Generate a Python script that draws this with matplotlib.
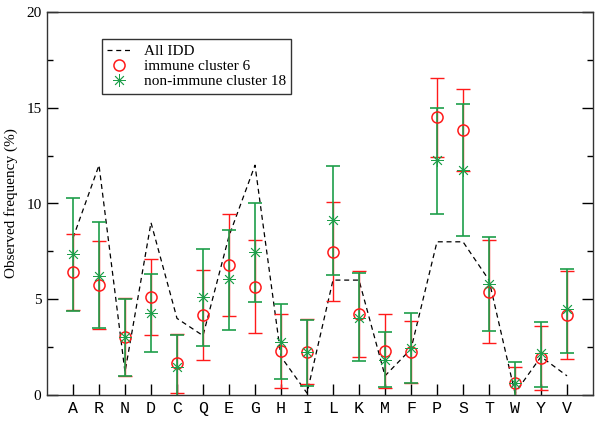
import matplotlib
matplotlib.use("Agg")
import matplotlib.pyplot as plt
import numpy as np
from matplotlib.ticker import MultipleLocator

residues = ["A", "R", "N", "D", "C", "Q", "E", "G", "H", "I",
            "L", "K", "M", "F", "P", "S", "T", "W", "Y", "V"]

all_idd = [8.2, 12.0, 1.2, 9.0, 4.0, 3.1, 8.3, 12.0, 2.0, 0.1,
           6.0, 6.0, 1.0, 2.4, 8.0, 8.0, 6.0, 0.1, 2.0, 1.0]

immune = [6.42, 5.76, 3.04, 5.13, 1.65, 4.19, 6.80, 5.66, 2.31, 2.25,
          7.49, 4.23, 2.30, 2.26, 14.50, 13.85, 5.40, 0.61, 1.91, 4.18]
immune_low = [4.44, 3.46, 1.00, 3.12, 0.09, 1.81, 4.12, 3.25, 0.38, 0.55,
              4.93, 1.97, 0.35, 0.61, 12.41, 11.70, 2.73, -0.24, 0.26, 1.86]
immune_high = [8.39, 8.06, 5.08, 7.10, 3.20, 6.53, 9.45, 8.09, 4.25, 3.95,
               10.08, 6.46, 4.25, 3.88, 16.54, 16.00, 8.09, 1.46, 3.60, 6.49]

nonimmune = [7.35, 6.23, 3.04, 4.27, 1.48, 5.13, 6.04, 7.45, 2.78, 2.23,
             9.12, 4.00, 1.83, 2.44, 12.27, 11.75, 5.80, 0.61, 2.18, 4.47]
nonimmune_low = [4.39, 3.52, 0.99, 2.23, -0.16, 2.58, 3.39, 4.85, 0.82, 0.47,
                 6.27, 1.78, 0.43, 0.61, 9.45, 8.30, 3.34, -0.50, 0.43, 2.18]
nonimmune_high = [10.30, 9.02, 5.03, 6.30, 3.12, 7.62, 8.63, 10.04, 4.73, 3.93,
                  11.97, 6.35, 3.31, 4.27, 15.00, 15.21, 8.23, 1.71, 3.83, 6.58]

red = "#ff1a1a"
green = "#1e9e4a"

fig = plt.figure(figsize=(6.0, 4.23), dpi=100)
ax = fig.add_axes([47/600, 28/423, 546/600, 383/423])

x = np.arange(1, len(residues) + 1)

ax.plot(x, all_idd, color="black", lw=0.9, dashes=(4, 3), label="All IDD", zorder=2)

im = np.array(immune)
ax.errorbar(x, im, yerr=[im - np.array(immune_low), np.array(immune_high) - im],
            fmt="none", ecolor=red, elinewidth=1.0, capsize=5, capthick=1.0, zorder=3)
ax.plot(x, im, linestyle="none", marker="o", markersize=8, markerfacecolor="none",
        markeredgecolor=red, markeredgewidth=1.1, label="immune cluster 6", zorder=5)

ni = np.array(nonimmune)
ax.errorbar(x, ni, yerr=[ni - np.array(nonimmune_low), np.array(nonimmune_high) - ni],
            fmt="none", ecolor=green, elinewidth=1.2, capsize=5, capthick=1.2, zorder=4)
ax.plot(x, ni, linestyle="none", marker=(8, 2, 0), markersize=9,
        markeredgecolor=green, markerfacecolor=green, markeredgewidth=0.6,
        label="non-immune cluster 18", zorder=6)

ax.set_xlim(0, 21)
ax.set_ylim(0, 20)
ax.set_xticks(x)
ax.set_xticklabels(residues, family="Liberation Mono", fontsize=12)
ax.yaxis.set_major_locator(MultipleLocator(5))
ax.yaxis.set_minor_locator(MultipleLocator(2.5))
ax.tick_params(axis="y", which="major", direction="in", length=8, width=1,
               left=True, right=True, labelsize=11, pad=4)
ax.tick_params(axis="y", which="minor", direction="in", length=4.5, width=1,
               left=True, right=True)
ax.tick_params(axis="x", which="major", direction="in", length=8, width=1,
               bottom=True, top=False, pad=4)
for lab in ax.get_yticklabels():
    lab.set_family("Liberation Serif")
ax.set_ylabel("Observed frequency (%)", family="Liberation Serif", fontsize=11, labelpad=6)
for s in ax.spines.values():
    s.set_linewidth(1.0)
    s.set_color("#333333")

leg = ax.legend(loc="upper left", bbox_to_anchor=(0.10, 0.93),
                prop={"family": "Liberation Serif", "size": 11},
                frameon=True, fancybox=False, edgecolor="black",
                handlelength=1.6, handletextpad=0.8, borderpad=0.35,
                labelspacing=0.1, borderaxespad=0)
leg.get_frame().set_linewidth(1.0)

fig.savefig("out.png", dpi=100)
